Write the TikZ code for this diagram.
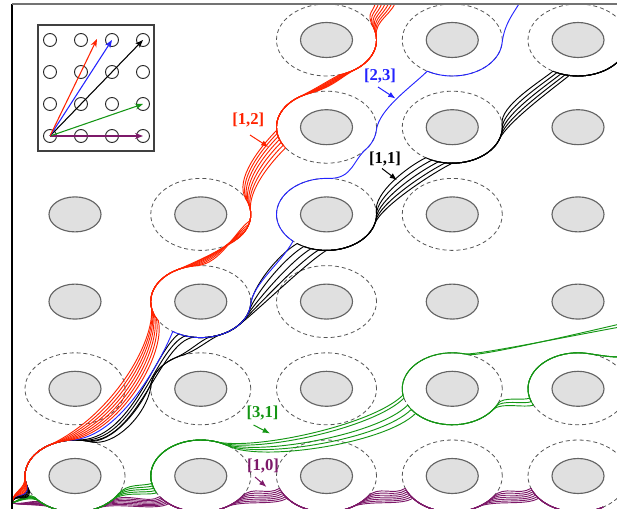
\documentclass[tikz,border=0pt]{standalone}
\usepackage{fontspec}
\setmainfont{Liberation Serif}
\usetikzlibrary{arrows.meta,shapes.geometric}
\definecolor{cred}{RGB}{255,35,0}
\definecolor{cblue}{RGB}{35,35,255}
\definecolor{cgreen}{RGB}{20,150,20}
\definecolor{cpurp}{RGB}{125,25,105}
\definecolor{obfill}{RGB}{224,224,224}
\definecolor{obdraw}{RGB}{100,100,100}
\definecolor{zonedraw}{RGB}{85,85,85}
% arc on dashed ellipse (row #1, col #2) from screen angle #3 to #4
\newcommand\myAR[4]{-- plot[domain=#3:#4,samples=30,variable=\t]({75+125.75*(#2)+50*cos(\t)},{40+87.2*(#1)-36*sin(\t)})}
% transition: leave ellipse (#1,#2) at #3 with tangent factor #4, arrive ellipse (#5,#6) at #7 with control offset (#8,#9)
\newcommand\myTR[9]{.. controls ({75+125.75*(#2)+50*cos(#3)-(#4)*50*sin(#3)},{40+87.2*(#1)-36*sin(#3)-(#4)*36*cos(#3)}) and ({75+125.75*(#6)+50*cos(#7)+(#8)},{40+87.2*(#5)-36*sin(#7)+(#9)}) .. ({75+125.75*(#6)+50*cos(#7)},{40+87.2*(#5)-36*sin(#7)})}
\newcommand\myTS[7]{.. controls ({#1},{#2}) and ({75+125.75*(#4)+50*cos(#5)+(#6)},{40+87.2*(#3)-36*sin(#5)+(#7)}) .. ({75+125.75*(#4)+50*cos(#5)},{40+87.2*(#3)-36*sin(#5)})}
\newcommand\myTX[8]{.. controls ({75+125.75*(#2)+50*cos(#3)-(#4)*50*sin(#3)},{40+87.2*(#1)-36*sin(#3)-(#4)*36*cos(#3)}) and ({#5},{#6}) .. ({#7},{#8})}
\begin{document}
\begin{tikzpicture}[x=0.75pt,y=-0.75pt,
  zone/.style={ellipse,draw=zonedraw,dash pattern=on 3pt off 2.2pt,line width=0.6pt,minimum width=75pt,minimum height=54pt,inner sep=0pt},
  obst/.style={ellipse,draw=obdraw,fill=obfill,line width=0.85pt,minimum width=39pt,minimum height=26.25pt,inner sep=0pt},
  trj/.style={line width=0.7pt,line join=round,line cap=round},
  lab/.style={font=\fontsize{12.5}{14}\selectfont\bfseries,inner sep=0pt},
  larr/.style={-{Latex[length=5.5pt,width=4.2pt]},line width=0.75pt},
  iarr/.style={-{Stealth[length=6pt,width=4.5pt]},line width=0.8pt},
  icirc/.style={circle,draw=black!85,line width=0.7pt,minimum size=9.75pt,inner sep=0pt}]
\useasboundingbox (0,0) rectangle (617,509);
\begin{scope}
\clip (12,4) rectangle (617,509);
\foreach \r/\c in {0/2,0/3,0/4,1/2,1/3,2/1,2/2,2/3,3/1,3/2,4/0,4/1,4/2,4/3,4/4,5/0,5/1,5/2,5/3,5/4}
  \node[zone] (z\r\c) at ({75+125.75*\c},{40+87.2*\r}) {};
\foreach \r/\c in {0/2,0/3,0/4,1/2,1/3,1/4,2/0,2/1,2/2,2/3,2/4,3/0,3/1,3/2,3/3,3/4,4/0,4/1,4/2,4/3,4/4,5/0,5/1,5/2,5/3,5/4}
  \node[obst] (o\r\c) at ({75+125.75*\c},{40+87.2*\r}) {};
% purple [1,0]
\foreach \k in {0,...,6}{
  \pgfmathsetmacro\aA{226+2*\k}
  \pgfmathsetmacro\dA{315-3*\k}
  \pgfmathsetmacro\aB{215+2.5*\k}
  \pgfmathsetmacro\aN{200+3*\k}
  \pgfmathsetmacro\dN{325-4*\k}
  \draw[trj,cpurp] (12,503) \myTS{22}{505}{5}{0}{\aA}{-8}{-2} \myAR{5}{0}{\aA}{\dA}
    \myTR{5}{0}{\dA}{0.4}{5}{1}{\aB}{-12}{8} \myAR{5}{1}{\aB}{\dN}
    \myTR{5}{1}{\dN}{0.4}{5}{2}{\aN}{-12}{8} \myAR{5}{2}{\aN}{\dN}
    \myTR{5}{2}{\dN}{0.4}{5}{3}{\aN}{-12}{8} \myAR{5}{3}{\aN}{\dN}
    \myTR{5}{3}{\dN}{0.4}{5}{4}{\aN}{-12}{8} \myAR{5}{4}{\aN}{300};
}
% green [3,1]
\foreach \k in {0,...,4}{
  \pgfmathsetmacro\aA{216+2*\k}
  \pgfmathsetmacro\dA{330-3*\k}
  \pgfmathsetmacro\aB{192+4*\k}
  \pgfmathsetmacro\dB{72-4*\k}
  \pgfmathsetmacro\aC{{190,195,207,215,223}[\k]}
  \ifnum\k<2
    \pgfmathsetmacro\dC{{72,76}[\k]}
    \pgfmathsetmacro\eY{324+3*\k}
    \def\gtail{\myAR{4}{3}{\aC}{\dC} \myTX{4}{3}{\dC}{-0.2}{560}{338}{620}{\eY}}
  \else
    \pgfmathsetmacro\dC{335-5*(\k-2)}
    \pgfmathsetmacro\aD{195+6*(\k-2)}
    \def\gtail{\myAR{4}{3}{\aC}{\dC} \myTR{4}{3}{\dC}{0.25}{4}{4}{\aD}{-8}{3} \myAR{4}{4}{\aD}{78} \myTX{4}{4}{78}{-0.3}{610}{357}{620}{357}}
  \fi
  \draw[trj,cgreen] (12,503) \myTS{18}{501}{5}{0}{\aA}{-8}{-5} \myAR{5}{0}{\aA}{\dA}
     \myTR{5}{0}{\dA}{0.35}{5}{1}{\aB}{-10}{3} \myAR{5}{1}{\aB}{\dB}
     \myTR{5}{1}{\dB}{-0.8}{4}{3}{\aC}{-30}{30} \gtail;
}
% black [1,1]
\foreach \k in {0,...,4}{
  \pgfmathsetmacro\aA{204-2*\k}
  \pgfmathsetmacro\dA{72+4*\k}
  \pgfmathsetmacro\aB{{292,280,262,252,244}[\k]}
  \pgfmathsetmacro\bx{{-5,-10,-35,-30,-25}[\k]}
  \pgfmathsetmacro\by{{28,28,4,12,18}[\k]}
  \pgfmathsetmacro\dB{355-10*(4-\k)}
  \pgfmathsetmacro\aC{234+9*(4-\k)}
  \pgfmathsetmacro\dC{365-5*(4-\k)}
  \pgfmathsetmacro\aD{238+8*(4-\k)}
  \pgfmathsetmacro\dD{365-6*(4-\k)}
  \pgfmathsetmacro\aE{240+5*(4-\k)}
  \ifnum\k<2
    \pgfmathsetmacro\aR{{178,165}[\k]}
    \pgfmathsetmacro\dR{{112,120}[\k]}
    \def\bhead{\myTR{5}{0}{\dA}{-0.5}{4}{1}{\aR}{\bx}{\by} \myAR{4}{1}{\aR}{\dR} \myTR{4}{1}{\dR}{-0.3}{3}{1}{\aB}{-10}{4}}
  \else
    \def\bhead{\myTR{5}{0}{\dA}{-1.1}{3}{1}{\aB}{\bx}{\by}}
  \fi
  \draw[trj,black] (12,503) \myTS{14}{492}{5}{0}{\aA}{1}{14} \myAR{5}{0}{\aA}{\dA} \bhead
    \myAR{3}{1}{\aB}{\dB}
    \myTR{3}{1}{\dB}{0.5}{2}{2}{\aC}{-20}{12} \myAR{2}{2}{\aC}{\dC}
    \myTR{2}{2}{\dC}{0.5}{1}{3}{\aD}{-20}{10} \myAR{1}{3}{\aD}{\dD}
    \myTR{1}{3}{\dD}{0.5}{0}{4}{\aE}{-15}{12} \myAR{0}{4}{\aE}{335};
}
% blue [2,3]
\draw[trj,cblue] (12,503) \myTS{13}{490}{5}{0}{197}{1}{14} \myAR{5}{0}{197}{94}
  \myTR{5}{0}{94}{-1.0}{3}{1}{236}{-10}{25} \myAR{3}{1}{236}{355}
  \myTR{3}{1}{355}{0.6}{2}{2}{228}{-12}{22} \myAR{2}{2}{228}{88}
  \myTR{2}{2}{88}{-0.5}{1}{2}{-35}{-15}{12} \myAR{1}{2}{-35}{-5}
  \myTR{1}{2}{-5}{0.6}{0}{3}{240}{-15}{15} \myAR{0}{3}{240}{355}
  \myTX{0}{3}{355}{0.6}{515}{12}{523}{-3};
% red [1,2]
\foreach \k in {0,...,6}{
  \pgfmathsetmacro\uu{\k/6}
  \pgfmathsetmacro\kA{-1-0.5*\uu}
  \pgfmathsetmacro\aA{195-15*\uu}
  \pgfmathsetmacro\dA{98+24*\uu}
  \pgfmathsetmacro\aB{212-30*\uu}
  \pgfmathsetmacro\dB{95+25*\uu}
  \pgfmathsetmacro\aC{-10-36*\uu}
  \pgfmathsetmacro\dC{5+20*\uu}
  \pgfmathsetmacro\aD{215-30*\uu}
  \pgfmathsetmacro\dD{110+15*\uu}
  \pgfmathsetmacro\aE{305-20*\uu}
  \pgfmathsetmacro\dE{365+15*\uu}
  \pgfmathsetmacro\exX{377+20*(1-\uu)}
  \draw[trj,cred] (12,503) \myTS{13}{490}{5}{0}{\aA}{1}{14} \myAR{5}{0}{\aA}{\dA}
    \myTR{5}{0}{\dA}{\kA}{3}{1}{\aB}{8}{35} \myAR{3}{1}{\aB}{\dB}
    \myTR{3}{1}{\dB}{-0.5}{2}{1}{\aC}{-15}{10} \myAR{2}{1}{\aC}{\dC}
    \myTR{2}{1}{\dC}{0.6}{1}{2}{\aD}{-15}{15} \myAR{1}{2}{\aD}{\dD}
    \myTR{1}{2}{\dD}{-0.5}{0}{2}{\aE}{-15}{8} \myAR{0}{2}{\aE}{\dE}
    \myTX{0}{2}{\dE}{0.5}{\exX-3}{15}{\exX}{-3};
}
\end{scope}
% frame
\draw[black,line width=0.8pt] (12,4) -- (12,509);
\draw[black!55,line width=1.6pt] (12,4) -- (617,4);
% labels
\node[lab,text=cred] (l12) at (248.3,120) {[1,2]};
\node[lab,text=cblue] (l23) at (380,76) {[2,3]};
\node[lab,text=black] (l11) at (385,159) {[1,1]};
\node[lab,text=cgreen] (l31) at (262.5,413.3) {[3,1]};
\node[lab,text=cpurp] (l10) at (263,466) {[1,0]};
\coordinate (s12) at (250,135);   \coordinate (t12) at (268.5,147);
\coordinate (s23) at (378,87);    \coordinate (t23) at (395.5,98.5);
\coordinate (s11) at (382,168.5); \coordinate (t11) at (397,180);
\coordinate (s31) at (253.5,425); \coordinate (t31) at (270,433.5);
\coordinate (s10) at (255,477);   \coordinate (t10) at (266.5,487);
\draw[larr,cred] (s12) -- (t12);
\draw[larr,cblue] (s23) -- (t23);
\draw[larr,black] (s11) -- (t11);
\draw[larr,cgreen] (s31) -- (t31);
\draw[larr,cpurp] (s10) -- (t10);
% inset
\node[draw=black!75,line width=1pt,fill=white,minimum width=87pt,minimum height=94.5pt,inner sep=0pt] (inset) at (96,88) {};
\foreach \i in {0,...,3}
  \foreach \j in {0,...,3}
    \node[icirc] (c\i\j) at ({50+31*\i},{136-32*\j}) {};
\coordinate (ired) at (97,39);
\draw[iarr,cpurp] (c00.center) -- (c30.center);
\draw[iarr,cgreen] (c00.center) -- (c31.center);
\draw[iarr,black] (c00.center) -- (c33.center);
\draw[iarr,cblue] (c00.center) -- (c23.center);
\draw[iarr,cred] (c00.center) -- (ired);
\end{tikzpicture}
\end{document}
